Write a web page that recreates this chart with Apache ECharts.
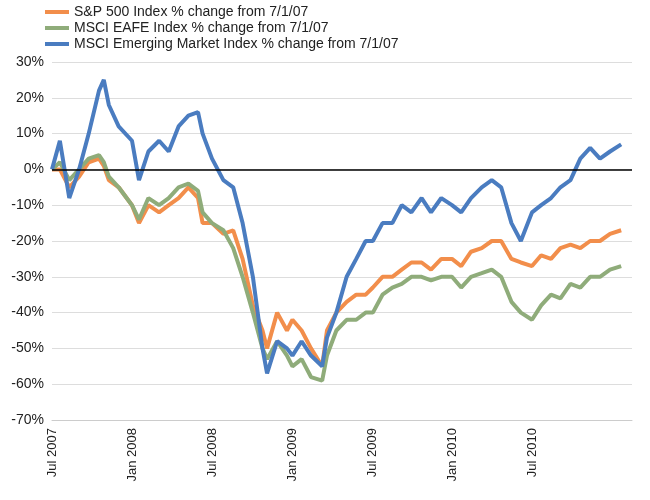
<!DOCTYPE html>
<html><head><meta charset="utf-8">
<script src="https://cdn.jsdelivr.net/npm/echarts@6/dist/echarts.min.js"></script>
<style>html,body{margin:0;padding:0;background:#fff}#c{width:650px;height:500px}</style>
</head><body><div id="c"></div>
<script>
const dates = ["2007-07-01","2007-07-19","2007-08-10","2007-09-02","2007-09-24","2007-10-17","2007-10-28","2007-11-09","2007-12-01","2008-01-01","2008-01-17","2008-02-08","2008-03-02","2008-03-24","2008-04-16","2008-05-08","2008-05-30","2008-06-10","2008-07-01","2008-07-27","2008-08-19","2008-09-10","2008-10-03","2008-10-25","2008-11-05","2008-11-28","2008-12-20","2009-01-02","2009-01-23","2009-02-14","2009-03-09","2009-03-20","2009-04-11","2009-05-04","2009-05-26","2009-06-17","2009-07-03","2009-07-25","2009-08-17","2009-09-08","2009-09-30","2009-10-23","2009-11-14","2009-12-07","2010-01-01","2010-01-22","2010-02-14","2010-03-08","2010-03-31","2010-04-22","2010-05-15","2010-06-06","2010-07-01","2010-07-22","2010-08-14","2010-09-05","2010-09-28","2010-10-20","2010-11-12","2010-12-04","2010-12-27","2011-01-22"];
const sp500 = [0,0,-5,-2,2,3,1,-3,-5,-10,-15,-10,-12,-10,-8,-5,-8,-15,-15,-18,-17,-25,-38,-45,-50,-40,-45,-42,-45,-50,-55,-45,-40,-37,-35,-35,-33,-30,-30,-28,-26,-26,-28,-25,-25,-27,-23,-22,-20,-20,-25,-26,-27,-24,-25,-22,-21,-22,-20,-20,-18,-17];
const eafe = [0,2,-3,0,3,4,2,-2,-5,-10,-14,-8,-10,-8,-5,-4,-6,-12,-15,-17,-22,-30,-40,-50,-53,-48,-52,-55,-53,-58,-59,-52,-45,-42,-42,-40,-40,-35,-33,-32,-30,-30,-31,-30,-30,-33,-30,-29,-28,-30,-37,-40,-42,-38,-35,-36,-32,-33,-30,-30,-28,-27];
const em = [0,8,-8,0,10,22,25,18,12,8,-3,5,8,5,12,15,16,10,3,-3,-5,-15,-30,-50,-57,-48,-50,-52,-48,-52,-55,-47,-40,-30,-25,-20,-20,-15,-15,-10,-12,-8,-12,-8,-10,-12,-8,-5,-3,-5,-15,-20,-12,-10,-8,-5,-3,3,6,3,5,7];
const tickLabels = ["Jul 2007","Jan 2008","Jul 2008","Jan 2009","Jul 2009","Jan 2010","Jul 2010"];
const names = ["S&P 500 Index % change from 7/1/07","MSCI EAFE Index % change from 7/1/07","MSCI Emerging Market Index % change from 7/1/07"];

function mx(s){const [y,m,d]=s.split("-").map(Number);return (y-2007)*12+(m-7)+(d-1)/30.5;}
function pts(arr){return arr.map((v,i)=>[mx(dates[i]),v]);}
const colors=["#f28e4b","#8fac7a","#4a7cc0"];
const series=[sp500,eafe,em].map((a,i)=>({name:names[i],type:"line",data:pts(a),showSymbol:false,
  lineStyle:{width:4,color:colors[i]},itemStyle:{color:colors[i]},z:2+i}));
series[2].markLine={silent:true,symbol:"none",label:{show:false},lineStyle:{color:"#000",width:1.5,type:"solid"},data:[{yAxis:0}]};
const chart=echarts.init(document.getElementById("c"));
chart.setOption({
  animation:false,
  textStyle:{fontFamily:"Liberation Sans, Arial"},
  legend:{orient:"vertical",left:40,top:0,itemGap:2,itemWidth:24,itemHeight:4,icon:"rect",
    textStyle:{fontSize:14,color:"#222"},data:names},
  grid:{left:52,right:18,top:62,bottom:80},
  xAxis:{type:"value",min:0,max:43.5,interval:6,
    axisLine:{show:true,onZero:false,lineStyle:{color:"#ccc"}},axisTick:{show:false},splitLine:{show:false},
    axisLabel:{rotate:90,fontSize:13,color:"#222",showMaxLabel:false,formatter:v=>tickLabels[Math.round(v/6)]||""}},
  yAxis:{type:"value",min:-70,max:30,interval:10,
    axisLine:{show:false},axisTick:{show:false},splitLine:{lineStyle:{color:"#ddd"}},
    axisLabel:{fontSize:14,color:"#222",formatter:v=>v+"%"}},
  series
});
</script></body></html>
